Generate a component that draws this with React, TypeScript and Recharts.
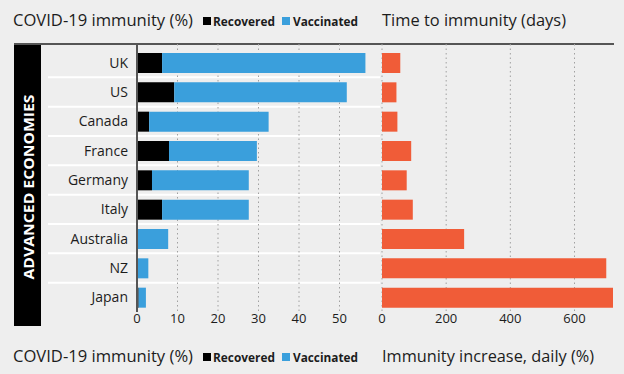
import { Bar, BarChart, CartesianGrid, XAxis, YAxis } from 'recharts'

const countries = ['UK', 'US', 'Canada', 'France', 'Germany', 'Italy', 'Australia', 'NZ', 'Japan']
const recovered = [6.2, 9.2, 3.0, 7.9, 3.7, 6.2, 0, 0, 0.4]
const vaccinated = [50.2, 42.6, 29.5, 21.7, 23.9, 21.4, 7.7, 2.8, 1.8]
const daysToImmunity = [57, 45, 48, 91, 77, 96, 256, 699, 720]
const immunityTicks = [0, 10, 20, 30, 40, 50]
const daysTicks = [0, 200, 400, 600]

const BLUE = '#3a9fdc'
const ORANGE = '#f05c38'
const BG = '#eeeeee'
const INK = '#1c1c1c'
const FONT = '"Open Sans", "Noto Sans", sans-serif'

// rows sit on a numeric axis (row index) so the white separators can go between them
const rows = countries.map((country, i) => ({
  idx: i,
  country,
  recovered: recovered[i],
  vaccinated: vaccinated[i],
  days: daysToImmunity[i],
}))
const rowTicks = countries.map((_, i) => i)
const rowEdges = countries.slice(1).map((_, i) => i + 0.5)
const rowDomain = [-0.5, countries.length - 0.5]

function HeaderRow({ y, rightTitle, rightLength }: { y: number; rightTitle: string; rightLength: number }) {
  return (
    <g fontFamily={FONT} fill={INK}>
      <text x={13} y={y} fontSize={17} textLength={180} lengthAdjust="spacingAndGlyphs">
        COVID-19 immunity (%)
      </text>
      <rect x={203} y={y - 9} width={8} height={8} fill="#000" />
      <text x={213} y={y} fontSize={13} fontWeight={700} textLength={62} lengthAdjust="spacingAndGlyphs">
        Recovered
      </text>
      <rect x={282} y={y - 9} width={8} height={8} fill={BLUE} />
      <text x={293} y={y} fontSize={13} fontWeight={700} textLength={65} lengthAdjust="spacingAndGlyphs">
        Vaccinated
      </text>
      <text x={382} y={y} fontSize={17} textLength={rightLength} lengthAdjust="spacingAndGlyphs">
        {rightTitle}
      </text>
    </g>
  )
}

export default function App() {
  return (
    <div
      style={{
        position: 'absolute',
        left: 0,
        top: 0,
        width: 624,
        height: 374,
        background: BG,
        fontFamily: FONT,
        overflow: 'hidden',
      }}
    >
      {/* black side band */}
      <div style={{ position: 'absolute', left: 14, top: 44, width: 27, height: 282, background: '#000' }}>
        <svg width={27} height={282}>
          <text
            x={0}
            y={0}
            transform="translate(19.5,143) rotate(-90)"
            textAnchor="middle"
            fill="#fff"
            fontSize={15}
            fontWeight={700}
            fontFamily={FONT}
            textLength={185}
            lengthAdjust="spacingAndGlyphs"
          >
            ADVANCED ECONOMIES
          </text>
        </svg>
      </div>

      {/* top rule */}
      <div style={{ position: 'absolute', left: 14, top: 43, width: 600, height: 2, background: '#555' }} />

      <div style={{ position: 'absolute', left: 0, top: 0 }}>
        <BarChart
          width={382}
          height={340}
          data={rows}
          layout="vertical"
          margin={{ top: 44, right: 2, left: 0, bottom: 0 }}
        >
          <CartesianGrid
            x={48}
            width={332}
            vertical={false}
            stroke="#ffffff"
            strokeWidth={2}
            horizontalValues={rowEdges}
            syncWithTicks
          />
          <CartesianGrid horizontal={false} stroke="#a0a0a0" strokeDasharray="1.5 3" syncWithTicks />
          <XAxis
            type="number"
            domain={[0, 60]}
            ticks={immunityTicks}
            interval={0}
            axisLine={false}
            tickLine={false}
            tickSize={0}
            tickMargin={2}
            height={28}
            tick={{ fontSize: 13, fill: INK, fontFamily: FONT }}
          />
          <YAxis
            type="number"
            dataKey="idx"
            domain={rowDomain}
            ticks={rowTicks}
            interval={0}
            width={137}
            padding={{ top: 4, bottom: 0 }}
            axisLine={{ stroke: '#555', strokeWidth: 2 }}
            tickLine={false}
            tickSize={0}
            tickMargin={9}
            tickFormatter={(v) => countries[Number(v)] ?? ''}
            tick={{ fontSize: 14, fill: INK, fontFamily: FONT }}
          />
          <Bar dataKey="recovered" stackId="a" fill="#000" barSize={20} isAnimationActive={false} />
          <Bar dataKey="vaccinated" stackId="a" fill={BLUE} barSize={20} isAnimationActive={false} />
        </BarChart>
      </div>

      <div style={{ position: 'absolute', left: 372, top: 0 }}>
        <BarChart
          width={252}
          height={340}
          data={rows}
          layout="vertical"
          margin={{ top: 44, right: 11, left: 10, bottom: 0 }}
        >
          <CartesianGrid
            vertical={false}
            stroke="#ffffff"
            strokeWidth={2}
            horizontalValues={rowEdges}
            syncWithTicks
          />
          <CartesianGrid horizontal={false} stroke="#a0a0a0" strokeDasharray="1.5 3" syncWithTicks />
          <XAxis
            type="number"
            domain={[0, 720]}
            ticks={daysTicks}
            interval={0}
            allowDataOverflow
            axisLine={false}
            tickLine={false}
            tickSize={0}
            tickMargin={2}
            height={28}
            tick={{ fontSize: 13, fill: INK, fontFamily: FONT }}
          />
          <YAxis
            type="number"
            dataKey="idx"
            domain={rowDomain}
            ticks={rowTicks}
            width={0}
            padding={{ top: 4, bottom: 0 }}
            axisLine={{ stroke: '#555', strokeWidth: 2 }}
            tickLine={false}
            tick={false}
          />
          <Bar dataKey="days" fill={ORANGE} barSize={20} isAnimationActive={false} />
        </BarChart>
      </div>

      <svg width={624} height={374} style={{ position: 'absolute', left: 0, top: 0, pointerEvents: 'none' }}>
        <HeaderRow y={26} rightTitle="Time to immunity (days)" rightLength={184} />
        <HeaderRow y={362} rightTitle="Immunity increase, daily (%)" rightLength={212} />
      </svg>
    </div>
  )
}
